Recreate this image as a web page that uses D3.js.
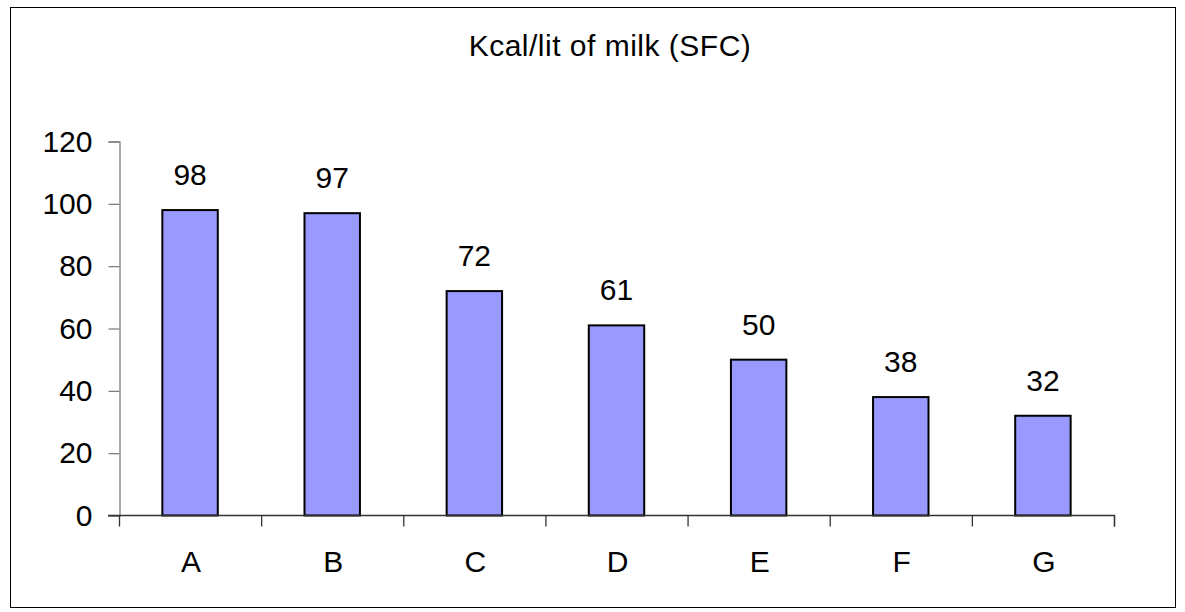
<!DOCTYPE html>
<html>
<head>
<meta charset="utf-8">
<script src="https://cdn.jsdelivr.net/npm/d3@7"></script>
<style>
  body { margin: 0; background: #fff; }
  text { font-family: "Liberation Sans", Arial, sans-serif; fill: #000; }
</style>
</head>
<body>
<div id="chart"></div>
<script>
var categories = ["A", "B", "C", "D", "E", "F", "G"];
var values = [98, 97, 72, 61, 50, 38, 32];
var yTicks = [0, 20, 40, 60, 80, 100, 120];
var title = "Kcal/lit of milk (SFC)";

var width = 1185, height = 612;

var svg = d3.select("#chart").append("svg")
    .attr("width", width)
    .attr("height", height);

// outer frame
svg.append("rect")
    .attr("x", 10.5)
    .attr("y", 7.5)
    .attr("width", 1165)
    .attr("height", 600)
    .attr("fill", "#fff")
    .attr("stroke", "#000")
    .attr("stroke-width", 1);

// scales
var x = d3.scaleBand()
    .domain(categories)
    .range([119, 1114])
    .padding(0);
var y = d3.scaleLinear()
    .domain([0, 120])
    .range([515.5, 141.5]);

var barW = x.bandwidth() * 0.39;

// title
svg.append("text")
    .attr("x", 610)
    .attr("y", 56)
    .attr("text-anchor", "middle")
    .style("font-size", "30px")
    .style("letter-spacing", "0.5px")
    .text(title);

// y axis
var yAxis = svg.append("g")
    .attr("transform", "translate(119.5,0)")
    .call(d3.axisLeft(y).tickValues(yTicks).tickSize(11).tickPadding(16));
yAxis.select(".domain").attr("stroke", "#808080").attr("stroke-width", 1.3);
yAxis.selectAll(".tick line").attr("stroke", "#808080").attr("stroke-width", 1.3);
yAxis.selectAll(".tick text")
    .style("font-size", "30px")
    .style("font-family", "'Liberation Sans', Arial, sans-serif")
    .attr("fill", "#000");

// bars
svg.selectAll(".bar")
    .data(values)
    .enter().append("rect")
    .attr("class", "bar")
    .attr("x", function (d, i) { return x(categories[i]) + x.bandwidth() / 2 - barW / 2; })
    .attr("y", function (d) { return y(d); })
    .attr("width", barW)
    .attr("height", function (d) { return y(0) - y(d); })
    .attr("fill", "#9999ff")
    .attr("stroke", "#000")
    .attr("stroke-width", 2);

// x axis with ticks at band boundaries
var xb = d3.scaleLinear().domain([0, categories.length]).range(x.range());
var xAxis = svg.append("g")
    .attr("transform", "translate(0," + 515.5 + ")")
    .call(d3.axisBottom(xb).tickValues(d3.range(0, categories.length + 1)).tickSize(11).tickFormat(""));
xAxis.select(".domain").attr("stroke", "#333").attr("stroke-width", 1.3)
    .attr("d", "M108,0H1114.5V11");
xAxis.selectAll(".tick line").attr("stroke", "#333").attr("stroke-width", 1.3);

// category labels
svg.selectAll(".cat")
    .data(categories)
    .enter().append("text")
    .attr("class", "cat")
    .attr("x", function (d) { return x(d) + x.bandwidth() / 2 + 1; })
    .attr("y", 572)
    .attr("text-anchor", "middle")
    .style("font-size", "30px")
    .text(function (d) { return d; });

// value labels
svg.selectAll(".val")
    .data(values)
    .enter().append("text")
    .attr("class", "val")
    .attr("x", function (d, i) { return x(categories[i]) + x.bandwidth() / 2; })
    .attr("y", function (d) { return y(d) - 25; })
    .attr("text-anchor", "middle")
    .style("font-size", "30px")
    .text(function (d) { return d; });
</script>
</body>
</html>
